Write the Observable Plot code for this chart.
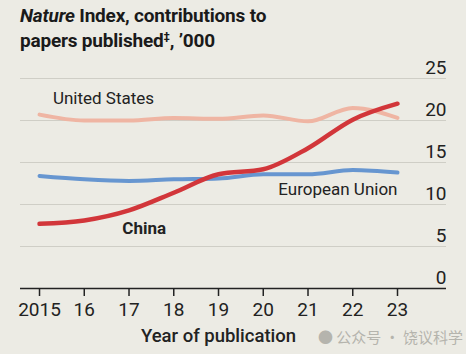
<!DOCTYPE html>
<html>
<head>
<meta charset="utf-8">
<script src="https://cdn.jsdelivr.net/npm/d3@7"></script>
<script src="https://cdn.jsdelivr.net/npm/@observablehq/plot@0.6"></script>
<style>
  html, body { margin: 0; padding: 0; background: #ecebe4; }
  body { width: 466px; height: 354px; overflow: hidden; position: relative;
         font-family: "Roboto", sans-serif; }
  #title { position: absolute; left: 20px; top: 3px; font-size: 19px; font-weight: bold;
           line-height: 25px; color: #1a1a1a; letter-spacing: -0.2px; }
  #chart { position: absolute; left: 0; top: 56px; }
  #wm { position: absolute; left: 318px; top: 326px; font-size: 15px; color: #b5b4ad;
        font-family: "Noto Sans CJK SC", sans-serif; }
</style>
</head>
<body>
<div id="title"><i>Nature</i> Index, contributions to<br>papers published<sup style="font-size:11px;vertical-align:7px;line-height:0">‡</sup>, ’000</div>
<div id="chart"></div>
<div id="wm">&#9679; 公众号 · 饶议科学</div>
<script>
const years = [2015, 2016, 2017, 2018, 2019, 2020, 2021, 2022, 2023];
const usValues = [20.7, 20.0, 20.0, 20.3, 20.2, 20.6, 19.9, 21.5, 20.3];
const euValues = [13.4, 13.0, 12.8, 13.0, 13.1, 13.6, 13.6, 14.1, 13.8];
const chinaValues = [7.7, 8.1, 9.3, 11.4, 13.6, 14.2, 16.7, 20.1, 22.0];
const yTicks = [0, 5, 10, 15, 20, 25];
const xTickLabels = ["2015", "16", "17", "18", "19", "20", "21", "22", "23"];
const usLabel = [{name: "United States", year: 2015.3, value: 22.6}];
const euLabel = [{name: "European Union", year: 2023, value: 11.8}];
const cnLabel = [{name: "China", year: 2016.85, value: 7.1}];

const us = years.map((y, i) => ({year: y, value: usValues[i]}));
const eu = years.map((y, i) => ({year: y, value: euValues[i]}));
const cn = years.map((y, i) => ({year: y, value: chinaValues[i]}));

const chart = Plot.plot({
  width: 466,
  height: 298,
  marginLeft: 20,
  marginRight: 20,
  marginTop: 22,
  marginBottom: 66,
  style: {background: "transparent", fontFamily: "Roboto, sans-serif", color: "#222"},
  x: {domain: [2014.575, 2024.095]},
  y: {domain: [0, 25]},
  marks: [
    Plot.gridY(yTicks, {stroke: "#cfcec6", strokeOpacity: 1, strokeWidth: 1.2}),
    Plot.axisY(yTicks, {anchor: "right", tickSize: 0, tickPadding: 0, textAnchor: "end", dy: -11, fontSize: 19, fill: "#222", label: null}),
    Plot.line(us, {x: "year", y: "value", stroke: "#efb5a3", strokeWidth: 4, curve: "monotone-x"}),
    Plot.line(eu, {x: "year", y: "value", stroke: "#6796d0", strokeWidth: 4, curve: "monotone-x"}),
    Plot.line(cn, {x: "year", y: "value", stroke: "#d2363a", strokeWidth: 4.5, curve: "monotone-x"}),
    Plot.text(usLabel, {x: "year", y: "value", text: "name", textAnchor: "start", fontSize: 17, fill: "#222"}),
    Plot.text(euLabel, {x: "year", y: "value", text: "name", textAnchor: "end", fontSize: 17, fill: "#222"}),
    Plot.text(cnLabel, {x: "year", y: "value", text: "name", textAnchor: "start", fontSize: 17, fontWeight: "bold", fill: "#222"}),
    Plot.ruleY([0], {stroke: "#222", strokeWidth: 1.5}),
    Plot.axisX(years, {tickSize: 8, tickPadding: 6, tickFormat: (d, i) => xTickLabels[i], fontSize: 19, fill: "#222", stroke: "#222", strokeWidth: 1.5, label: null}),
    Plot.text(["Year of publication"], {frameAnchor: "bottom", x: () => 2019, dy: 53, fontSize: 18.5, fontWeight: "500", fill: "#222"})
  ]
});
document.getElementById("chart").appendChild(chart);
</script>
</body>
</html>
